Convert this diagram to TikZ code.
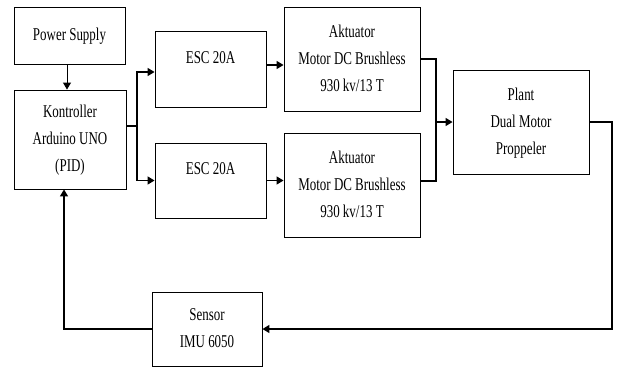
\documentclass[tikz,border=0pt]{standalone}
\usepackage{fontspec}
\setmainfont{Liberation Serif}
\usetikzlibrary{arrows.meta}
\newcommand{\sqz}[1]{\scalebox{0.72}[1]{\begin{tabular}{@{}c@{}}#1\end{tabular}}}
\begin{document}
\begin{tikzpicture}[x=1pt,y=-1pt,
  blk/.style={draw,line width=0.9pt,inner sep=0pt,font=\fontsize{18}{27}\selectfont},
  txt/.style={inner sep=0pt,font=\fontsize{18}{27}\selectfont},
  con/.style={line width=1.4pt},
  arr/.style={con,-{Triangle[length=7pt,width=8pt]}}]
\useasboundingbox (0,0) rectangle (617,369);
\renewcommand{\arraystretch}{1}
\setlength{\tabcolsep}{0pt}
\node[blk,minimum width=111pt,minimum height=57pt] (ps) at (69.5,35.5) {\sqz{Power Supply}};
\node[blk,minimum width=112pt,minimum height=99pt] (ctl) at (70,139.5) {\sqz{Kontroller\\Arduino UNO\\(PID)}};
\node[blk,minimum width=111pt,minimum height=76pt] (esc1) at (210.5,69) {};
\node[txt] (t1) at (210.5,58) {\sqz{ESC 20A}};
\node[blk,minimum width=111pt,minimum height=75pt] (esc2) at (210.5,180.5) {};
\node[txt] (t2) at (210.5,169) {\sqz{ESC 20A}};
\node[blk,minimum width=136pt,minimum height=104pt] (act1) at (352,59) {\sqz{Aktuator\\Motor DC Brushless\\930 kv/13 T}};
\node[blk,minimum width=136pt,minimum height=104pt] (act2) at (352,185) {\sqz{Aktuator\\Motor DC Brushless\\930 kv/13 T}};
\node[blk,minimum width=136pt,minimum height=104pt] (plant) at (521,122) {\sqz{Plant\\Dual Motor\\Proppeler}};
\node[blk,minimum width=110pt,minimum height=74pt] (sens) at (207,329) {\sqz{Sensor\\IMU 6050}};
% power supply to controller
\coordinate (p1) at (67,0);
\draw[arr,line width=1pt] (p1 |- ps.south) -- (p1 |- ctl.north);
% controller branch
\coordinate (b) at (137,126);
\draw[con] (ctl.east |- b) -- (b);
\coordinate (e1in) at ([yshift=-3pt]esc1.west);
\draw[arr] (b) |- (e1in);
\draw[arr] (b) |- (esc2.west);
% esc to actuator
\coordinate (e1) at ([yshift=4pt]esc1.east);
\draw[arr] (e1) -- (e1 -| act1.west);
\draw[arr] (esc2.east) -- (esc2.east -| act2.west);
% merge into plant
\coordinate (m) at (436,122);
\coordinate (a2) at ([yshift=4pt]act2.east);
\draw[con] (act1.east) -| (m);
\draw[con] (a2) -| (m);
\draw[arr] (m) -- (plant.west);
% plant to sensor
\coordinate (r) at (612,0);
\draw[arr] (plant.east) -| (r |- sens.east) -- (sens.east);
% sensor to controller
\coordinate (f) at (64,0);
\draw[arr] (sens.west) -| (f |- ctl.south);
\end{tikzpicture}
\end{document}
